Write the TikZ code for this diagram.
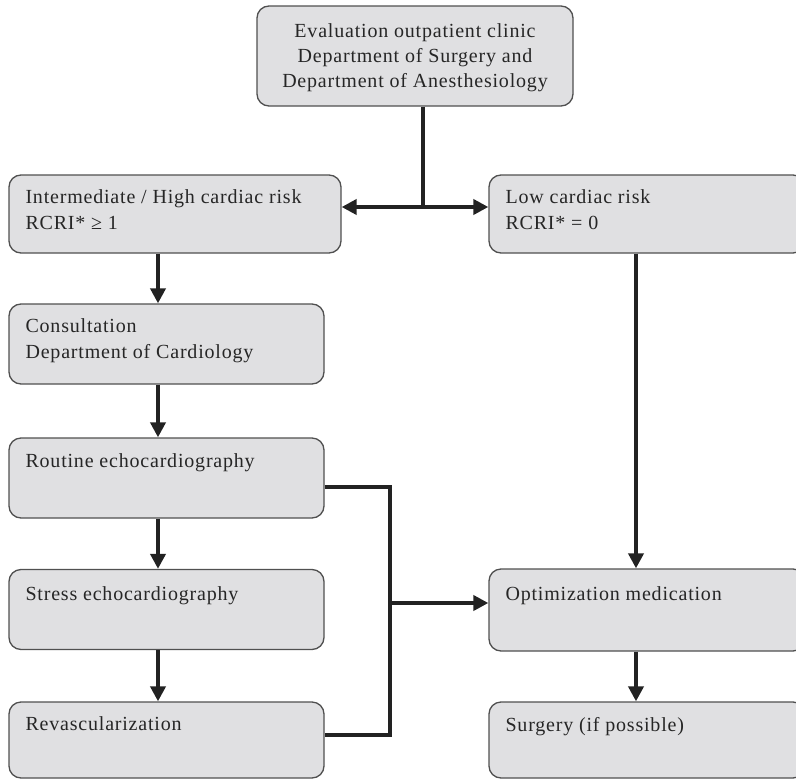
\documentclass[tikz,border=0pt]{standalone}
\usepackage{fontspec}
\setmainfont{Liberation Serif}[LetterSpace=4]
\usetikzlibrary{arrows.meta,calc}
\definecolor{boxfill}{HTML}{E0E0E2}
\definecolor{boxline}{HTML}{505050}
\definecolor{conn}{HTML}{222222}
\tikzset{
  boxnode/.style={draw=boxline,fill=boxfill,line width=1.3pt,rounded corners=12pt,inner sep=0pt,minimum width=#1},
  txt/.style={inner sep=0pt,anchor=north west,align=left,font=\fontsize{20}{26.5}\selectfont,text=black!85},
  ctxt/.style={inner sep=0pt,anchor=north,align=center,font=\fontsize{20}{25}\selectfont,text=black!85},
  link/.style={draw=conn,line width=4pt},
  arrow/.style={link,-{Triangle[length=15pt,width=15pt]}},
}
\begin{document}
\begin{tikzpicture}[x=1pt,y=-1pt]
\useasboundingbox (0,0) rectangle (796,782);
\clip (0,0) rectangle (796,782);
% boxes
\node[boxnode=316pt,minimum height=100pt] (top) at (415,56) {};
\node[boxnode=332pt,minimum height=78pt] (inter) at (175,214) {};
\node[boxnode=315pt,minimum height=80pt] (cons) at (166.5,344) {};
\node[boxnode=315pt,minimum height=80pt] (rout) at (166.5,478) {};
\node[boxnode=315pt,minimum height=80pt] (stress) at (166.5,609.5) {};
\node[boxnode=315pt,minimum height=76pt] (revasc) at (166.5,740) {};
\node[boxnode=316pt,minimum height=78pt] (low) at (647,214) {};
\node[boxnode=316pt,minimum height=82pt] (opt) at (647,610) {};
\node[boxnode=316pt,minimum height=76pt] (surg) at (647,740) {};
% texts
\node[ctxt] (ttop) at ($(top.north)+(0,18)$) {Evaluation outpatient clinic\\Department of Surgery and\\Department of Anesthesiology};
\node[txt] (tinter) at ($(inter.north west)+(17,15)$) {Intermediate / High cardiac risk\\RCRI* ≥ 1};
\node[txt] (tcons) at ($(cons.north west)+(17,15)$) {Consultation\\Department of Cardiology};
\node[txt] (trout) at ($(rout.north west)+(17,16)$) {Routine echocardiography};
\node[txt] (tstress) at ($(stress.north west)+(17,18)$) {Stress echocardiography};
\node[txt] (trevasc) at ($(revasc.north west)+(17,15)$) {Revascularization};
\node[txt] (tlow) at ($(low.north west)+(17,15)$) {Low cardiac risk\\RCRI* = 0};
\node[txt] (topt) at ($(opt.north west)+(17,18)$) {Optimization medication};
\node[txt] (tsurg) at ($(surg.north west)+(17,16)$) {Surgery (if possible)};
% coordinates
\coordinate (j) at (423,207);
\coordinate (cl) at (158,0);
\coordinate (cr) at (636,0);
\coordinate (bus) at (390,603);
% connectors
\draw[link] (top.south -| j) -- (j);
\draw[arrow] (j) -- (j -| inter.east);
\draw[arrow] (j) -- (j -| low.west);
\draw[arrow] (inter.south -| cl) -- (cons.north -| cl);
\draw[arrow] (cons.south -| cl) -- (rout.north -| cl);
\draw[arrow] (rout.south -| cl) -- (stress.north -| cl);
\draw[arrow] (stress.south -| cl) -- (revasc.north -| cl);
\draw[arrow] (low.south -| cr) -- (opt.north -| cr);
\draw[arrow] (opt.south -| cr) -- (surg.north -| cr);
\draw[link] ($(rout.east)+(0,9)$) -| (bus) |- ($(revasc.east)+(0,-5)$);
\draw[arrow] (bus) -- (bus -| opt.west);
\end{tikzpicture}
\end{document}
